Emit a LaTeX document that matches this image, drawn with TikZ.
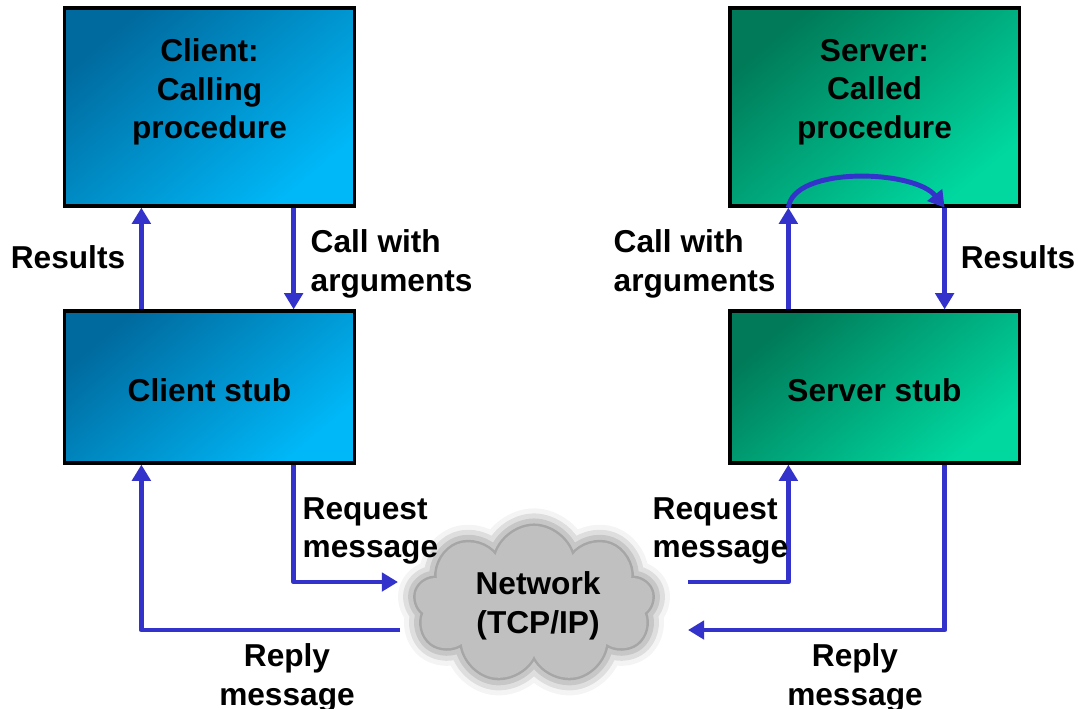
\documentclass[tikz,border=0pt]{standalone}
\usepackage{fontspec}
\setmainfont{Liberation Sans}
\usetikzlibrary{shapes.symbols,shadows.blur,arrows.meta}

\definecolor{linkblue}{HTML}{3333CC}
\definecolor{clientdark}{HTML}{006A9E}
\definecolor{clientlight}{HTML}{00B8F8}
\definecolor{serverdark}{HTML}{007A58}
\definecolor{serverlight}{HTML}{00D8A0}
\definecolor{cloudgray}{HTML}{C0C0C0}

\tikzset{
  box/.style={draw=black, line width=0.9pt, minimum width=2.89cm, inner sep=0pt},
  clientbox/.style={box, top color=clientdark, bottom color=clientlight, shading angle=40},
  serverbox/.style={box, top color=serverdark, bottom color=serverlight, shading angle=40},
  lbl/.style={font=\bfseries\fontsize{9}{11}\selectfont, inner sep=0pt, align=center},
  lbll/.style={lbl, align=left, anchor=west},
  link/.style={draw=linkblue, line width=1.4pt, line join=round,
    -{Triangle[length=4.6pt, width=5.2pt]}}
}

\begin{document}
\begin{tikzpicture}[x=0.01cm, y=-0.01cm]
  \useasboundingbox (0,0) rectangle (1078,708);

  % boxes
  \node[clientbox, minimum height=1.98cm] (client) at (209.5,107) {};
  \node[lbl] (clienttxt) at (209.5,92) {Client:\\Calling\\procedure};
  \node[clientbox, minimum height=1.52cm] (cstub) at (209.5,387) {};
  \node[lbl] (cstubtxt) at (209.5,390) {Client stub};

  \node[serverbox, minimum height=1.98cm] (server) at (874.5,107) {};
  \node[lbl] (servertxt) at (874.5,92) {Server:\\Called\\procedure};
  \node[serverbox, minimum height=1.52cm] (sstub) at (874.5,387) {};
  \node[lbl] (sstubtxt) at (874.5,390) {Server stub};

  % network
  \node[cloud, cloud puffs=9, aspect=1.6, fill=cloudgray, draw=none,
    minimum width=2.38cm, minimum height=1.56cm,
    blur shadow={shadow xshift=0pt, shadow yshift=0pt, shadow blur radius=5pt,
      shadow opacity=70}]
    (net) at (534,604) {};
  \node[lbl] (nettxt) at (538,606) {Network\\(TCP/IP)};

  \coordinate (lreq) at (398,582);
  \coordinate (lrep) at (400,630);
  \coordinate (rreq) at (688,582);
  \coordinate (rrep) at (688,630);

  % client side
  \draw[link] ([xshift=0.78cm]cstub.north west) -- ([xshift=0.78cm]client.south west);
  \draw[link] ([xshift=-0.62cm]client.south east) -- ([xshift=-0.62cm]cstub.north east);
  \draw[link] ([xshift=-0.62cm]cstub.south east) |- (lreq);
  \draw[link] (lrep) -| ([xshift=0.78cm]cstub.south west);

  % server side
  \draw[link] ([xshift=0.6cm]sstub.north west) -- ([xshift=0.6cm]server.south west);
  \draw[link] ([xshift=-0.76cm]server.south east) -- ([xshift=-0.76cm]sstub.north east);
  \draw[link] ([xshift=0.6cm]server.south west) .. controls +(5,-42) and +(-30,-38) .. ([xshift=-0.76cm]server.south east);
  \draw[link] (rreq) -| ([xshift=0.6cm]sstub.south west);
  \draw[link] ([xshift=-0.76cm]sstub.south east) |- (rrep);

  % labels
  \node[lbl] (lres) at (68,257) {Results};
  \node[lbll] (lcall) at (310,264) {Call with\\arguments};
  \node[lbll] (rcall) at (613,264) {Call with\\arguments};
  \node[lbl] (rres) at (1018,257) {Results};
  \node[lbll] (lreqtxt) at (302,531) {Request\\message};
  \node[lbll] (rreqtxt) at (652,531) {Request\\message};
  \node[lbl] (lreptxt) at (287,678) {Reply\\message};
  \node[lbl] (rreptxt) at (855,678) {Reply\\message};
\end{tikzpicture}
\end{document}
